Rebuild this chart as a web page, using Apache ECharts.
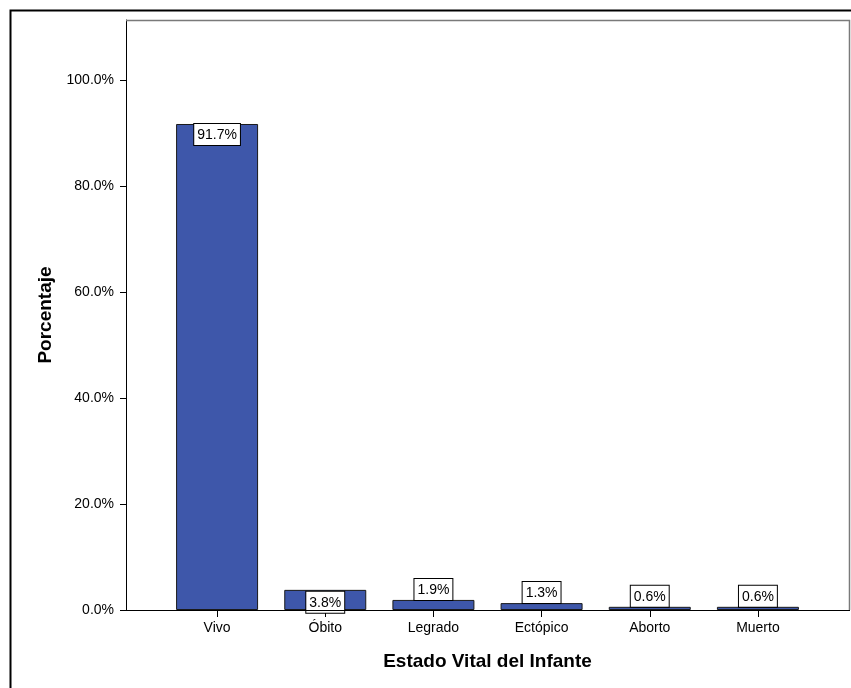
<!DOCTYPE html>
<html>
<head>
<meta charset="utf-8">
<script src="https://cdn.jsdelivr.net/npm/echarts@6/dist/echarts.min.js"></script>
<style>
  html, body { margin: 0; padding: 0; background: #ffffff; }
  #chart { width: 851px; height: 688px; }
</style>
</head>
<body>
<div id="chart"></div>
<script>
// Estado vital del infante: percentage per category
const categories = ['Vivo', 'Óbito', 'Legrado', 'Ectópico', 'Aborto', 'Muerto'];
const percentages = [91.7, 3.8, 1.9, 1.3, 0.6, 0.6];
const yTicks = [0, 20, 40, 60, 80, 100];

const FONT = 'Liberation Sans, Arial, sans-serif';

// plot frame and the inset band area inside it
const frame = { left: 126, top: 20, right: 849, bottom: 610 };
const inset = 37;

const chart = echarts.init(document.getElementById('chart'), null, { renderer: 'canvas' });

const labelBox = {
  show: true,
  formatter: p => p.value.toFixed(1) + '%',
  fontFamily: FONT,
  fontSize: 14,
  color: '#000',
  backgroundColor: '#ffffff',
  borderColor: '#000',
  borderWidth: 1,
  padding: [4, 3, 3, 3],
  distance: 0
};

const barData = percentages.map(v => ({
  value: v,
  label: Object.assign({}, labelBox, v >= 2.5
    ? { position: 'insideTop', distance: v < 10 ? 2 : 0 }
    : { position: 'top' })
}));

chart.setOption({
  backgroundColor: '#ffffff',
  animation: false,
  grid: {
    left: frame.left + inset,
    right: 851 - frame.right + inset,
    top: frame.top,
    bottom: 688 - frame.bottom
  },
  xAxis: {
    type: 'category',
    data: categories,
    name: 'Estado Vital del Infante',
    nameLocation: 'middle',
    nameGap: 42,
    nameTextStyle: { fontFamily: FONT, fontSize: 19, fontWeight: 'bold', color: '#000' },
    axisLine: { show: false },
    axisTick: { show: true, alignWithLabel: true, length: 7, lineStyle: { color: '#000', width: 1 } },
    axisLabel: { fontFamily: FONT, fontSize: 14, color: '#000', margin: 11 },
    splitLine: { show: false }
  },
  yAxis: {
    type: 'value',
    min: 0,
    max: (frame.bottom - frame.top) / 5.3,
    interval: 20,
    offset: inset,
    name: 'Porcentaje',
    nameLocation: 'middle',
    nameGap: 70,
    nameTextStyle: { fontFamily: FONT, fontSize: 19, fontWeight: 'bold', color: '#000' },
    axisLine: { show: true, lineStyle: { color: '#000', width: 1 } },
    axisTick: { show: true, length: 6, customValues: yTicks, lineStyle: { color: '#000' } },
    axisLabel: {
      fontFamily: FONT, fontSize: 14, color: '#000', margin: 12,
      customValues: yTicks,
      formatter: v => v.toFixed(1) + '%'
    },
    splitLine: { show: false }
  },
  graphic: [
    // outer border around the whole figure
    { type: 'rect', z: -10, silent: true,
      shape: { x: 10.5, y: 10.5, width: 900, height: 900 },
      style: { fill: null, stroke: '#000', lineWidth: 2 } },
    // top and right edges of the plot frame
    { type: 'polyline', z: 10, silent: true,
      shape: { points: [[frame.left, frame.top + 0.5], [frame.right + 0.5, frame.top + 0.5], [frame.right + 0.5, frame.bottom]] },
      style: { fill: null, stroke: '#7a7a7a', lineWidth: 1.5 } },
    // baseline across the full frame
    { type: 'line', z: 10, silent: true,
      shape: { x1: frame.left, y1: frame.bottom + 0.5, x2: frame.right + 1, y2: frame.bottom + 0.5 },
      style: { stroke: '#000', lineWidth: 1 } }
  ],
  series: [{
    type: 'bar',
    data: barData,
    barWidth: 82,
    itemStyle: { color: '#3E57AA', borderColor: '#1a1a1a', borderWidth: 1 },
    labelLayout: { hideOverlap: false },
    z: 5
  }]
});
</script>
</body>
</html>
